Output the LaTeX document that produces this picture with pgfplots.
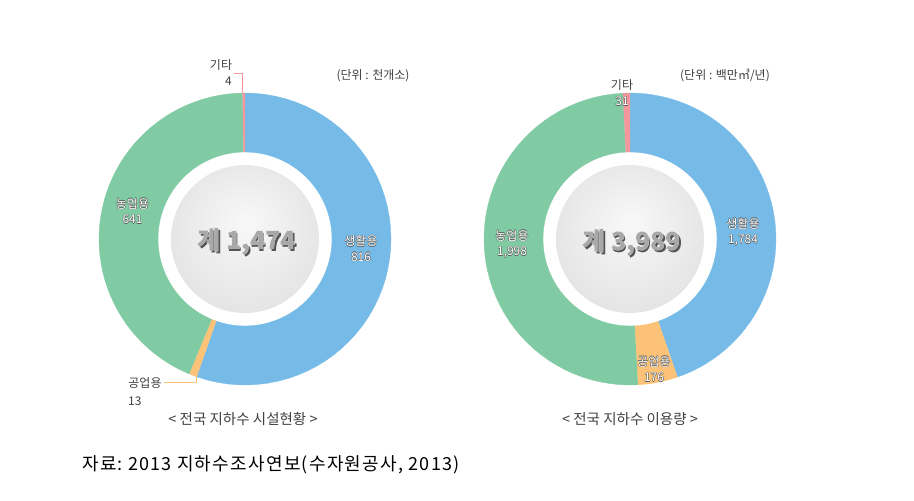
\documentclass[border=0pt]{standalone}
\usepackage{fontspec}
\setmainfont{Noto Sans CJK KR}
\usepackage{pgfplots}
\usepackage{pgfplotstable}
\pgfplotsset{compat=1.18}

\definecolor{cDom}{HTML}{76BBE8}
\definecolor{cInd}{HTML}{FCC378}
\definecolor{cAgr}{HTML}{80CBA3}
\definecolor{cEtc}{HTML}{F4979C}
\definecolor{labgray}{HTML}{404040}
\definecolor{outl}{HTML}{5A5A5A}
\definecolor{hubA}{HTML}{F8F8F8}
\definecolor{hubB}{HTML}{E4E4E4}
\definecolor{hubC}{HTML}{BCBCBC}
\definecolor{numA}{HTML}{A8A8A8}
\definecolor{numS}{HTML}{555555}
\pgfdeclareradialshading{hub}{\pgfpoint{0bp}{6bp}}{color(0bp)=(hubA); color(28bp)=(hubB); color(50bp)=(hubC)}

% 지하수 시설현황 (천개소)
\pgfplotstableread{
sector value
domestic 816
industrial 13
agricultural 641
other 4
}\facilities
% 지하수 이용량 (백만m3/년)
\pgfplotstableread{
sector value
domestic 1784
industrial 176
agricultural 1998
other 31
}\usage

\newcommand\getv[3]{\pgfplotstablegetelem{#2}{value}\of{#1}\edef#3{\pgfplotsretval}}
\getv{\facilities}{0}{\FDom}
\getv{\facilities}{1}{\FInd}
\getv{\facilities}{2}{\FAgr}
\getv{\facilities}{3}{\FEtc}
\pgfmathsetmacro\FTot{\FDom+\FInd+\FAgr+\FEtc}
\pgfmathsetmacro\Fa{90}
\pgfmathsetmacro\Fb{\Fa-360*(\FDom/\FTot)}
\pgfmathsetmacro\Fc{\Fb-360*(\FInd/\FTot)}
\pgfmathsetmacro\Fd{\Fc-360*(\FAgr/\FTot)}
\pgfmathsetmacro\Fe{\Fd-360*(\FEtc/\FTot)}
\getv{\usage}{0}{\UDom}
\getv{\usage}{1}{\UInd}
\getv{\usage}{2}{\UAgr}
\getv{\usage}{3}{\UEtc}
\pgfmathsetmacro\UTot{\UDom+\UInd+\UAgr+\UEtc}
\pgfmathsetmacro\Ua{90}
\pgfmathsetmacro\Ub{\Ua-360*(\UDom/\UTot)}
\pgfmathsetmacro\Uc{\Ub-360*(\UInd/\UTot)}
\pgfmathsetmacro\Ud{\Uc-360*(\UAgr/\UTot)}
\pgfmathsetmacro\Ue{\Ud-360*(\UEtc/\UTot)}

\def\Ro{146}
\def\Ri{87}
% annular sector: cx, cy, start angle, end angle, colour
\newcommand\slice[5]{%
\addplot[fill=#5, draw=#5, line width=0.3pt, domain=0:2, samples=101, variable=\t]
 ({#1+((\t<0.99)?\Ro:\Ri)*cos((\t<0.99)?(#3+(#4-#3)*\t/0.98):(#4-(#4-#3)*(\t-1)))},
  {#2+((\t<0.99)?\Ro:\Ri)*sin((\t<0.99)?(#3+(#4-#3)*\t/0.98):(#4-(#4-#3)*(\t-1)))});
}
\tikzset{
 lab/.style={font=\fontsize{12}{15}\selectfont, text=labgray, align=center, inner sep=0pt},
 olab/.style={font=\fontsize{12}{15.5}\selectfont, align=center, inner sep=0pt},
 big/.style={font=\fontsize{25}{30}\selectfont\bfseries, inner sep=0pt},
}
\newcommand\olabel[3]{%
 \node[olab,text=outl,xshift=0.5pt] at (axis cs:#1,#2) {#3};
 \node[olab,text=outl,xshift=-0.5pt] at (axis cs:#1,#2) {#3};
 \node[olab,text=outl,yshift=0.5pt] at (axis cs:#1,#2) {#3};
 \node[olab,text=outl,yshift=-0.5pt] at (axis cs:#1,#2) {#3};
 \node[olab,text=white] at (axis cs:#1,#2) {#3};
}
\newcommand\total[3]{%
 \node[big,text=numS,xshift=1.4pt,yshift=-1.4pt] at (axis cs:#1,#2) {#3};
 \node[big,text=white,xshift=-0.5pt,yshift=0.5pt] at (axis cs:#1,#2) {#3};
 \node[big,text=numA] at (axis cs:#1,#2) {#3};
}

\begin{document}
\begin{tikzpicture}
\begin{axis}[scale only axis, width=914pt, height=501pt,
  xmin=0, xmax=914, ymin=0, ymax=501, hide axis, clip=false]
\addplot[draw=none] coordinates {(0,0) (914,501)};
% left donut
\slice{245}{262}{\Fa}{\Fb}{cDom}
\slice{245}{262}{\Fb}{\Fc}{cInd}
\slice{245}{262}{\Fc}{\Fd}{cAgr}
\slice{245}{262}{\Fd}{\Fe}{cEtc}
% right donut
\slice{630}{262}{\Ua}{\Ub}{cDom}
\slice{630}{262}{\Ub}{\Uc}{cInd}
\slice{630}{262}{\Uc}{\Ud}{cAgr}
\slice{630}{262}{\Ud}{\Ue}{cEtc}
% hubs
\shade[shading=hub] (axis cs:245,262) circle[radius=74];
\shade[shading=hub] (axis cs:630,262) circle[radius=74];
\total{247}{259}{계 1,474}
\total{632}{258}{계 3,989}
% left labels
\node[lab] at (axis cs:221,436) {기타};
\node[lab] at (axis cs:228.5,419.5) {4};
\draw[cEtc, line width=0.6pt] (axis cs:234,428) -| (axis cs:242,408);
\node[lab] at (axis cs:373,425) {(단위 : 천개소)};
\olabel{132.5}{290}{농업용\\641}
\olabel{361}{252.5}{생활용\\816}
\node[lab] at (axis cs:145,118) {공업용};
\node[lab, anchor=west] at (axis cs:128,100) {13};
\draw[cInd, line width=0.6pt] (axis cs:164,119) -| (axis cs:196,124);
\node[font=\fontsize{14.5}{17}\selectfont, text=labgray] at (axis cs:243,82) {< 전국 지하수 시설현황 >};
% right labels
\node[lab] at (axis cs:622,416) {기타};
\olabel{622}{399.5}{31}
\node[lab] at (axis cs:725,426) {(단위 : 백만㎥/년)};
\olabel{512}{257}{농업용\\1,998}
\olabel{743}{269}{생활용\\1,784}
\olabel{654}{132}{공업용\\176}
\node[font=\fontsize{14.5}{17}\selectfont, text=labgray] at (axis cs:630,82) {< 전국 지하수 이용량 >};
% source
\node[anchor=west, inner sep=0pt, font=\fontsize{18}{21}\selectfont\addfontfeatures{LetterSpace=7}, text=black] at (axis cs:82,36) {자료:\ 2013 지하수조사연보(수자원공사, 2013)};
\end{axis}
\end{tikzpicture}
\end{document}
